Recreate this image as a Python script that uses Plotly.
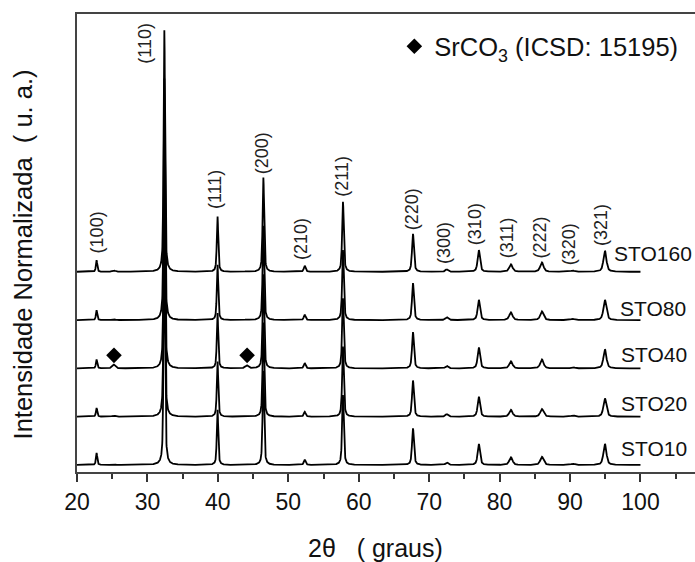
import numpy as np
import plotly.graph_objects as go

# ---------------- data ----------------
samples = ["STO10", "STO20", "STO40", "STO80", "STO160"]
offsets = [0.0, 0.2, 0.4, 0.6, 0.8]

hkl = ["(100)", "(110)", "(111)", "(200)", "(210)", "(211)", "(220)",
       "(300)", "(310)", "(311)", "(222)", "(320)", "(321)"]
peak_pos = [22.78, 32.40, 39.95, 46.46, 52.33, 57.76, 67.70,
            72.50, 77.05, 81.60, 86.00, 90.40, 94.95]
peak_fwhm = [0.22, 0.24, 0.24, 0.26, 0.30, 0.28, 0.32,
             0.45, 0.40, 0.55, 0.55, 0.60, 0.50]
# normalized heights, one list per sample
heights = {
    "STO10":  [0.050, 1.0, 0.23, 0.39, 0.022, 0.29, 0.152, 0.010, 0.087, 0.032, 0.034, 0.005, 0.087],
    "STO20":  [0.036, 1.0, 0.23, 0.39, 0.020, 0.29, 0.150, 0.010, 0.083, 0.028, 0.032, 0.005, 0.076],
    "STO40":  [0.037, 1.0, 0.23, 0.39, 0.022, 0.29, 0.150, 0.010, 0.087, 0.029, 0.037, 0.005, 0.079],
    "STO80":  [0.041, 1.0, 0.23, 0.39, 0.022, 0.29, 0.153, 0.012, 0.084, 0.032, 0.036, 0.005, 0.084],
    "STO160": [0.048, 1.0, 0.23, 0.39, 0.025, 0.29, 0.157, 0.010, 0.090, 0.031, 0.039, 0.005, 0.087],
}
srco3_pos = [25.2, 44.1]
srco3_fwhm = [0.5, 0.5]
srco3_heights = {
    "STO10": [0.004, 0.002], "STO20": [0.004, 0.002], "STO40": [0.016, 0.012],
    "STO80": [0.004, 0.002], "STO160": [0.006, 0.002],
}
srco3_marker_x = [25.25, 44.15]
srco3_marker_y = [0.454, 0.454]

two_theta = np.arange(20.0, 100.0001, 0.02)


def profile(x, pos, fwhm, amp, eta=0.6):
    y = np.zeros_like(x)
    for p, w, a in zip(pos, fwhm, amp):
        hw = w / 2.0
        lor = 1.0 / (1.0 + ((x - p) / hw) ** 2)
        gau = np.exp(-np.log(2) * ((x - p) / hw) ** 2)
        y += a * (eta * lor + (1 - eta) * gau)
    return y


FONT = "Liberation Sans, Arial, sans-serif"
fig = go.Figure()

for s, off in zip(samples, offsets):
    y = profile(two_theta, peak_pos, peak_fwhm, heights[s])
    y += profile(two_theta, srco3_pos, srco3_fwhm, srco3_heights[s])
    fig.add_trace(go.Scatter(x=two_theta, y=y + off, mode="lines",
                             line=dict(color="black", width=1.8),
                             showlegend=False, hoverinfo="skip"))

fig.add_trace(go.Scatter(x=srco3_marker_x, y=srco3_marker_y, mode="markers",
                         marker=dict(symbol="diamond", size=12, color="black"),
                         name="SrCO<sub>3</sub> (ICSD: 15195)", showlegend=True))

# peak labels (rotated)
label_x = [22.9, 29.6, 39.6, 46.3, 51.8, 57.6, 67.6, 72.1, 76.6, 81.0, 85.6, 89.9, 94.4]
label_y = [0.965, 1.747, 1.139, 1.292, 0.936, 1.197, 1.060, 0.919, 0.996, 0.942, 0.942, 0.915, 0.994]
for t, lx, ly in zip(hkl, label_x, label_y):
    fig.add_annotation(x=lx, y=ly, text=t, textangle=-90, showarrow=False,
                       xanchor="center", yanchor="middle",
                       font=dict(family=FONT, size=18, color="#222"))

# sample labels
name_x = [96.9, 96.9, 96.9, 96.8, 96.0]
name_dy = [0.068, 0.055, 0.056, 0.05, 0.075]
for s, off, nx, dy in zip(samples, offsets, name_x, name_dy):
    fig.add_annotation(x=nx, y=off + dy, text=s, showarrow=False,
                       xanchor="left", yanchor="middle",
                       font=dict(family=FONT, size=21, color="#111"))

# axis titles
fig.add_annotation(xref="paper", yref="paper", x=0.4838, y=-0.166,
                   text="2θ&nbsp;&nbsp;&nbsp;( graus)", showarrow=False,
                   xanchor="center", yanchor="middle",
                   font=dict(family=FONT, size=25, color="#111"))
fig.add_annotation(xref="paper", yref="paper", x=-0.0874, y=0.475,
                   text="Intensidade Normalizada&nbsp;&nbsp;( u. a.)", textangle=-90,
                   showarrow=False, xanchor="center", yanchor="middle",
                   font=dict(family=FONT, size=25.5, color="#111"))

fig.update_layout(
    width=695, height=562,
    margin=dict(l=77, r=0, t=14, b=90),
    paper_bgcolor="white", plot_bgcolor="white",
    font=dict(family=FONT, color="#111"),
    showlegend=True,
    legend=dict(x=0.5135, y=0.98, xanchor="left", yanchor="top",
                bgcolor="rgba(0,0,0,0)", borderwidth=0,
                font=dict(family=FONT, size=25.5, color="#111")),
    xaxis=dict(range=[20, 107.74], tickmode="linear", tick0=20, dtick=10,
               ticks="outside", ticklen=8, tickwidth=1.5, tickcolor="#333",
               showline=True, linewidth=2, linecolor="#444", mirror=True,
               showgrid=False, zeroline=False,
               tickfont=dict(family=FONT, size=23, color="#111"),
               minor=dict(ticks="outside", ticklen=5, tickwidth=1.5, tickcolor="#333",
                          dtick=5, tick0=20, showgrid=False)),
    yaxis=dict(range=[-0.029, 1.8675], showticklabels=False, ticks="",
               showline=True, linewidth=2, linecolor="#444", mirror=False,
               showgrid=False, zeroline=False),
)

fig.write_html("out.html")
